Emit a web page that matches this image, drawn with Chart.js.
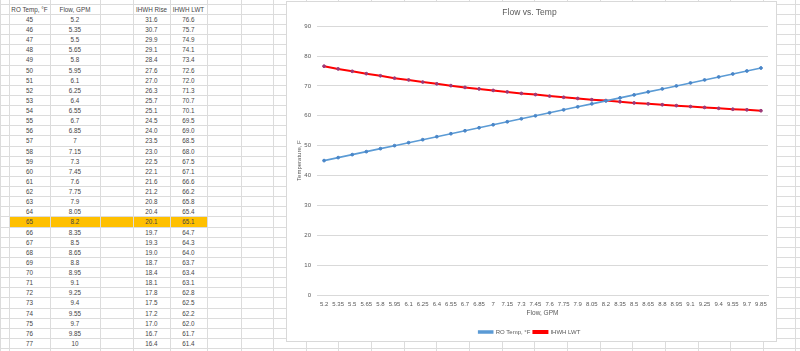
<!DOCTYPE html>
<html>
<head>
<meta charset="utf-8">
<script src="https://cdn.jsdelivr.net/npm/chart.js@4"></script>
<style>
    body { margin: 0; background: #fff; width: 800px; height: 351px; overflow: hidden; position: relative; font-family: 'Liberation Sans', Arial, sans-serif; }
    .vl { position: absolute; top: 0; width: 1px; height: 351px; background: #dcdcdc; }
    .hl { position: absolute; left: 0; height: 1px; width: 800px; background: #dcdcdc; }
    .cell { position: absolute; font-size: 6.3px; color: #454545; text-align: center; white-space: nowrap; }
    .hi { position: absolute; background: #ffc000; }
    #chartBox { position: absolute; left: 286px; top: 1px; width: 489px; height: 339px; background: #fff; border: 1px solid #d9d9d9; }
</style>
</head>
<body>
<div id="sheet"></div>
<div id="chartBox"><canvas id="flowChart" width="489" height="339"></canvas></div>
<script>
// table data, read from the sheet
const roTemp = [45, 46, 47, 48, 49, 50, 51, 52, 53, 54, 55, 56, 57, 58, 59, 60, 61,
    62, 63, 64, 65, 66, 67, 68, 69, 70, 71, 72, 73, 74, 75, 76, 77];
const flowGpm = ['5.2', '5.35', '5.5', '5.65', '5.8', '5.95', '6.1', '6.25', '6.4', '6.55', '6.7',
    '6.85', '7', '7.15', '7.3', '7.45', '7.6', '7.75', '7.9', '8.05', '8.2', '8.35', '8.5',
    '8.65', '8.8', '8.95', '9.1', '9.25', '9.4', '9.55', '9.7', '9.85', '10'];
const ihwhRise = [31.6, 30.7, 29.9, 29.1, 28.4, 27.6, 27.0, 26.3, 25.7, 25.1, 24.5, 24.0, 23.5,
    23.0, 22.5, 22.1, 21.6, 21.2, 20.8, 20.4, 20.1, 19.7, 19.3, 19.0, 18.7, 18.4, 18.1,
    17.8, 17.5, 17.2, 17.0, 16.7, 16.4];
const ihwhLwt = [76.6, 75.7, 74.9, 74.1, 73.4, 72.6, 72.0, 71.3, 70.7, 70.1, 69.5, 69.0, 68.5,
    68.0, 67.5, 67.1, 66.6, 66.2, 65.8, 65.4, 65.1, 64.7, 64.3, 64.0, 63.7, 63.4, 63.1,
    62.8, 62.5, 62.2, 62.0, 61.7, 61.4];
const headers = ['RO Temp, \u00b0F', 'Flow, GPM', '', 'IHWH Rise', 'IHWH LWT'];
const highlightTemp = 65;

// chart uses the first 32 rows
const chartRows = 32;
const yTicks = [0, 10, 20, 30, 40, 50, 60, 70, 80, 90];

// sheet grid
const colEdges = [0, 9, 50, 100, 133, 170, 207, 241, 273, 306, 338, 371, 404, 436, 469,
    502, 534, 567, 600, 632, 665, 698, 730, 763, 795];
const rowH = 10.125;
const firstRowTop = 3.8 - rowH;

function buildSheet() {
    const sheet = document.getElementById('sheet');
    let html = '';
    const hiRow = roTemp.indexOf(highlightTemp) + 2;
    const hiTop = firstRowTop + hiRow * rowH;
    html += `<div class="hi" style="left:${colEdges[1]}px;top:${hiTop + 1}px;width:${colEdges[6] - colEdges[1]}px;height:${rowH}px"></div>`;
    colEdges.forEach(x => { html += `<div class="vl" style="left:${x}px"></div>`; });
    for (let k = 0; k < 38; k++) {
        html += `<div class="hl" style="top:${Math.round(firstRowTop + k * rowH)}px"></div>`;
    }
    const rows = [headers].concat(roTemp.map((t, i) => [
        String(t), flowGpm[i], '', ihwhRise[i].toFixed(1), ihwhLwt[i].toFixed(1)
    ]));
    rows.forEach((r, i) => {
        const top = firstRowTop + (i + 1) * rowH;
        r.forEach((txt, c) => {
            if (!txt) return;
            const l = colEdges[c + 1], w = colEdges[c + 2] - l;
            html += `<div class="cell" style="left:${l}px;width:${w}px;top:${top + 1}px;height:${rowH}px;line-height:${rowH}px">${txt}</div>`;
        });
    });
    sheet.innerHTML = html;
}

function buildChart() {
    const ctx = document.getElementById('flowChart').getContext('2d');
    new Chart(ctx, {
        type: 'line',
        data: {
            labels: flowGpm.slice(0, chartRows),
            datasets: [{
                label: 'RO Temp, \u00b0F',
                data: roTemp.slice(0, chartRows),
                borderColor: '#5b9bd5',
                backgroundColor: '#5b9bd5',
                pointBackgroundColor: '#4a86c8',
                pointBorderColor: '#4a86c8',
                borderWidth: 1.6,
                pointRadius: 1.4,
                pointBorderWidth: 1,
                tension: 0
            }, {
                label: 'IHWH LWT',
                data: ihwhLwt.slice(0, chartRows),
                borderColor: '#ff0000',
                backgroundColor: '#ff0000',
                pointBackgroundColor: '#9c3a78',
                pointBorderColor: '#9c3a78',
                borderWidth: 2,
                pointRadius: 1.4,
                pointBorderWidth: 1,
                tension: 0
            }]
        },
        options: {
            responsive: false,
            animation: false,
            layout: { padding: { left: 4, right: 8, top: 3, bottom: -4 } },
            plugins: {
                title: {
                    display: true,
                    text: 'Flow vs. Temp',
                    color: '#595959',
                    font: { family: 'Liberation Sans', size: 8.5, weight: 'normal' },
                    padding: { top: 3, bottom: 8 }
                },
                legend: {
                    position: 'bottom',
                    labels: {
                        color: '#595959',
                        font: { family: 'Liberation Sans', size: 6 },
                        boxWidth: 14,
                        boxHeight: 2,
                        padding: 3
                    }
                },
                tooltip: { enabled: false }
            },
            scales: {
                x: {
                    offset: true,
                    grid: { display: false, drawTicks: false },
                    border: { color: '#d9d9d9' },
                    ticks: {
                        color: '#595959',
                        font: { family: 'Liberation Sans', size: 6 },
                        autoSkip: false,
                        maxRotation: 0,
                        minRotation: 0,
                        padding: 6
                    },
                    title: {
                        display: true,
                        text: 'Flow, GPM',
                        color: '#595959',
                        font: { family: 'Liberation Sans', size: 6.5 },
                        padding: { top: 2, bottom: 9 }
                    },
                    afterFit: s => { s.height = 31; }
                },
                y: {
                    min: yTicks[0],
                    max: yTicks[yTicks.length - 1],
                    afterBuildTicks: s => { s.ticks = yTicks.map(v => ({ value: v })); },
                    grid: { color: '#d9d9d9', drawTicks: false },
                    border: { display: false },
                    ticks: {
                        color: '#595959',
                        font: { family: 'Liberation Sans', size: 6 },
                        padding: 6
                    },
                    title: {
                        display: true,
                        text: 'Temperature, F',
                        color: '#595959',
                        font: { family: 'Liberation Sans', size: 6 },
                        padding: { top: 5, bottom: 2 }
                    },
                    afterFit: s => { s.width = 26; }
                }
            }
        }
    });
}

document.addEventListener('DOMContentLoaded', () => {
    buildSheet();
    buildChart();
});
</script>
</body>
</html>
